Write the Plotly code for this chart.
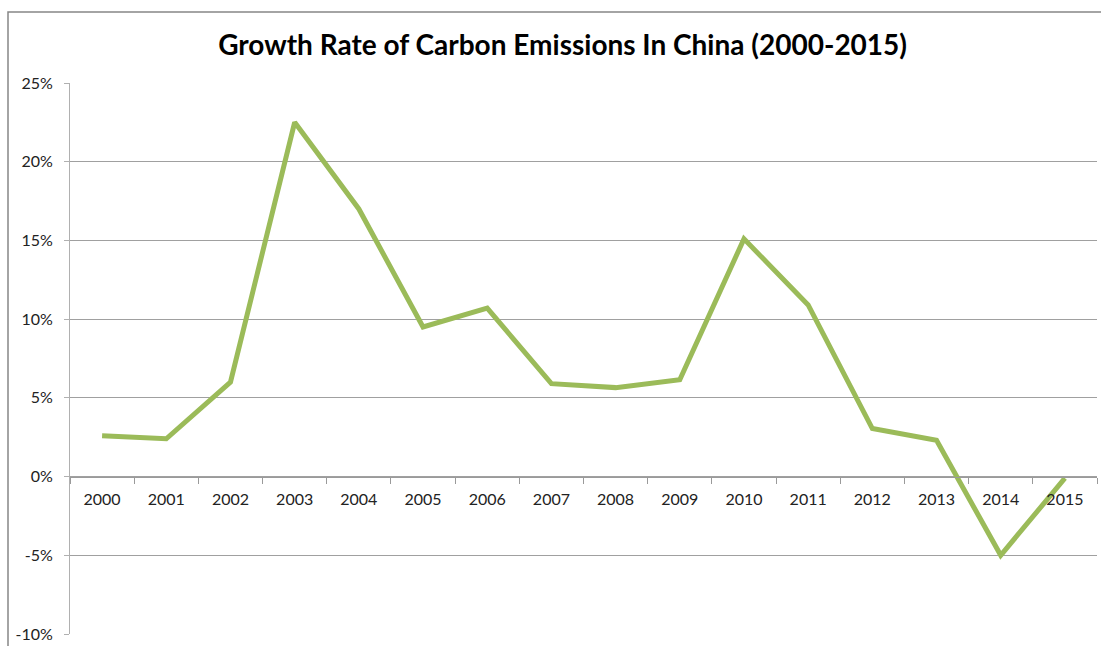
import plotly.graph_objects as go

years = ["2000", "2001", "2002", "2003", "2004", "2005", "2006", "2007",
         "2008", "2009", "2010", "2011", "2012", "2013", "2014", "2015"]
growth = [0.026, 0.024, 0.060, 0.225, 0.170, 0.095, 0.107, 0.059,
          0.0565, 0.0615, 0.151, 0.109, 0.0305, 0.023, -0.050, -0.001]
y_ticks = [-0.10, -0.05, 0.0, 0.05, 0.10, 0.15, 0.20, 0.25]
y_tick_labels = ["-10%", "-5%", "0%", "5%", "10%", "15%", "20%", "25%"]

FONT = "Lato, Carlito, Calibri, sans-serif"

fig = go.Figure()
fig.add_trace(go.Scatter(
    x=years, y=growth, mode="lines",
    line=dict(color="#9BBB59", width=5),
    hoverinfo="x+y",
))

ymin, ymax = -0.10, 0.25
fig.update_layout(
    width=1101, height=646,
    margin=dict(l=70, r=4, t=83, b=12),
    paper_bgcolor="white", plot_bgcolor="white",
    showlegend=False,
    title=dict(text="<b>Growth Rate of Carbon Emissions In China (2000-2015)</b>",
               x=0.511, xanchor="center", y=0.93, yanchor="middle",
               font=dict(family=FONT, size=28, color="black")),
    font=dict(family=FONT, size=16, color="#222222"),
    xaxis=dict(
        type="category", anchor="free", position=(0 - ymin) / (ymax - ymin),
        showline=True, linecolor="#9a9a9a", linewidth=1,
        ticks="outside", tickson="boundaries", ticklen=6, tickcolor="#9a9a9a",
        showgrid=False, zeroline=False, ticklabelstandoff=8,
        tickfont=dict(family=FONT, size=16, color="#222222"),
        range=[-0.5, 15.5],
    ),
    yaxis=dict(
        range=[ymin, ymax], tickvals=y_ticks, ticktext=y_tick_labels,
        showline=True, linecolor="#b0b0b0", linewidth=1,
        ticks="outside", ticklen=5, tickcolor="#b0b0b0",
        showgrid=True, gridcolor="#a0a0a0", gridwidth=1,
        zeroline=False, ticklabelstandoff=8,
        tickfont=dict(family=FONT, size=16, color="#222222"),
    ),
)

# outer chart frame (decoration)
fig.add_shape(type="rect", xref="paper", yref="paper",
              x0=(8 - 70) / 1027, x1=1.02, y0=-0.1, y1=(634 - 12) / 551,
              line=dict(color="#868686", width=1.5), fillcolor="rgba(0,0,0,0)",
              layer="below")

fig.write_html("out.html")
